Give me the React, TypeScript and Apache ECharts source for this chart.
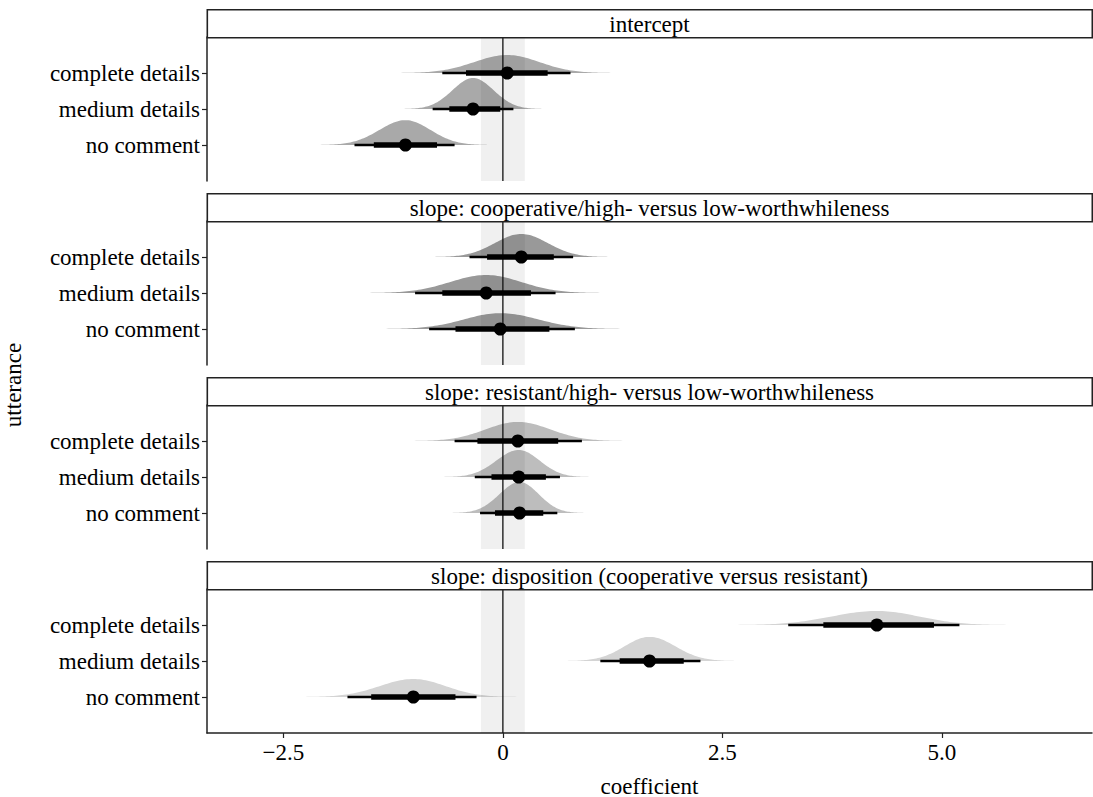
import React, { useEffect, useRef } from 'react';
import * as echarts from 'echarts';

// ---------- data ----------
const panelTitles = [
  'intercept',
  'slope: cooperative/high- versus low-worthwhileness',
  'slope: resistant/high- versus low-worthwhileness',
  'slope: disposition (cooperative versus resistant)',
];
// bottom to top on the y axis
const utterances = ['no comment', 'medium details', 'complete details'];

// per panel, in the order of `utterances`
const medians = [
  [-1.11, -0.34, 0.05],
  [-0.03, -0.19, 0.21],
  [0.19, 0.18, 0.17],
  [-1.02, 1.67, 4.26],
];
const lower66 = [
  [-1.47, -0.61, -0.42],
  [-0.54, -0.69, -0.18],
  [-0.09, -0.13, -0.29],
  [-1.5, 1.33, 3.65],
];
const upper66 = [
  [-0.75, -0.03, 0.51],
  [0.53, 0.32, 0.58],
  [0.46, 0.49, 0.63],
  [-0.54, 2.06, 4.91],
];
const lower95 = [
  [-1.69, -0.8, -0.69],
  [-0.84, -1.0, -0.38],
  [-0.26, -0.32, -0.55],
  [-1.77, 1.11, 3.25],
];
const upper95 = [
  [-0.55, 0.12, 0.77],
  [0.82, 0.6, 0.8],
  [0.62, 0.65, 0.9],
  [-0.3, 2.25, 5.2],
];
// peak height of each density, in category-spacing units
const peakHeights = [
  [0.69, 0.86, 0.5],
  [0.44, 0.5, 0.64],
  [0.86, 0.75, 0.53],
  [0.5, 0.67, 0.39],
];
const fillColors = ['#a9a9a9', '#999999', '#bdbdbd', '#d4d4d4'];
const xTicks = [-2.5, 0, 2.5, 5.0];
const xTickLabels = ['\u22122.5', '0', '2.5', '5.0'];
const ropeLow = -0.25;
const ropeHigh = 0.25;
const xMin = -3.37;
const xMax = 6.71;

// ---------- layout ----------
const LEFT = 207;
const RIGHT_EDGE = 1092;
const PANEL_TOP0 = 37;
const PANEL_STEP = 184;
const PANEL_H = 144;
const STRIP_H = 28;
const FONT = "'Liberation Serif', 'DejaVu Serif', serif";
const FS = 23;

const yCats = ['_lo', ...utterances, '_hi'];

export default function App() {
  const ref = useRef<HTMLDivElement>(null);

  useEffect(() => {
    if (!ref.current) return;
    const chart = echarts.init(ref.current, null, { renderer: 'svg' });

    const grids: any[] = [];
    const xAxes: any[] = [];
    const yAxes: any[] = [];
    const series: any[] = [];
    const graphics: any[] = [];

    panelTitles.forEach((title, p) => {
      const top = PANEL_TOP0 + PANEL_STEP * p;
      const isLast = p === panelTitles.length - 1;
      grids.push({ left: LEFT, top, width: RIGHT_EDGE - LEFT, height: PANEL_H, containLabel: false });
      xAxes.push({
        type: 'value',
        gridIndex: p,
        min: xMin,
        max: xMax,
        show: true,
        splitLine: { show: false },
        axisLine: { show: isLast, onZero: false, lineStyle: { color: '#222', width: 1.5 } },
        axisTick: {
          show: isLast,
          customValues: xTicks,
          length: 5,
          lineStyle: { color: '#222', width: 1.2 },
        },
        axisLabel: {
          show: isLast,
          customValues: xTicks,
          formatter: (v: number) => {
            const i = xTicks.findIndex((t) => Math.abs(t - v) < 1e-6);
            return i >= 0 ? xTickLabels[i] : '';
          },
          fontFamily: FONT,
          fontSize: FS,
          color: '#000',
          margin: 8,
        },
      });
      yAxes.push({
        type: 'category',
        gridIndex: p,
        position: 'left',
        data: yCats,
        boundaryGap: false,
        axisLine: { show: true, onZero: false, lineStyle: { color: '#222', width: 1.5 } },
        axisTick: {
          show: true,
          length: 5,
          interval: (idx: number) => idx >= 1 && idx <= utterances.length,
          lineStyle: { color: '#222', width: 1.2 },
        },
        axisLabel: {
          interval: (idx: number) => idx >= 1 && idx <= utterances.length,
          formatter: (v: string) => (v.startsWith('_') ? '' : v),
          fontFamily: FONT,
          fontSize: FS,
          color: '#000',
          margin: 7,
        },
        splitLine: { show: false },
      });

      const data = utterances.map((_, k) => [
        medians[p][k],
        k + 1,
        lower66[p][k],
        upper66[p][k],
        lower95[p][k],
        upper95[p][k],
        peakHeights[p][k],
      ]);

      const color = fillColors[p];
      // densities
      series.push({
        type: 'custom',
        xAxisIndex: p,
        yAxisIndex: p,
        z: 2,
        clip: true,
        silent: true,
        data,
        renderItem: (params: any, api: any) => {
          const med = api.value(0);
          const yi = api.value(1);
          const lo = api.value(4);
          const hi = api.value(5);
          const peak = api.value(6);
          const sdL = (med - lo) / 1.96;
          const sdR = (hi - med) / 1.96;
          const base = api.coord([med, yi]);
          const unit = Math.abs(api.coord([med, 1])[1] - api.coord([med, 2])[1]);
          const N = 70;
          const span = 4.5;
          const pts: number[][] = [];
          const px = (x: number) => api.coord([Math.max(xMin, Math.min(xMax, x)), yi])[0];
          pts.push([px(med - span * sdL), base[1]]);
          for (let i = 0; i <= N; i++) {
            const x = med - span * sdL + (span * sdL * i) / N;
            const z = (x - med) / sdL;
            pts.push([px(x), base[1] - peak * unit * Math.exp(-0.5 * z * z)]);
          }
          for (let i = 1; i <= N; i++) {
            const x = med + (span * sdR * i) / N;
            const z = (x - med) / sdR;
            pts.push([px(x), base[1] - peak * unit * Math.exp(-0.5 * z * z)]);
          }
          pts.push([px(med + span * sdR), base[1]]);
          return { type: 'polygon', shape: { points: pts }, style: { fill: color } };
        },
      });
      // rope band + zero line
      series.push({
        type: 'custom',
        xAxisIndex: p,
        yAxisIndex: p,
        z: 3,
        silent: true,
        data: [[0, 1]],
        renderItem: (params: any, api: any) => {
          const cs = params.coordSys;
          const x0 = api.coord([ropeLow, 1])[0];
          const x1 = api.coord([ropeHigh, 1])[0];
          const xz = api.coord([0, 1])[0];
          return {
            type: 'group',
            children: [
              {
                type: 'rect',
                shape: { x: x0, y: cs.y, width: x1 - x0, height: cs.height },
                style: { fill: 'rgba(0,0,0,0.06)' },
              },
              {
                type: 'line',
                shape: { x1: xz, y1: cs.y, x2: xz, y2: cs.y + cs.height },
                style: { stroke: '#111', lineWidth: 1.3 },
              },
            ],
          };
        },
      });
      // intervals + points
      series.push({
        type: 'custom',
        xAxisIndex: p,
        yAxisIndex: p,
        z: 4,
        silent: true,
        data,
        renderItem: (params: any, api: any) => {
          const yi = api.value(1);
          const c = (x: number) => api.coord([x, yi]);
          const m = c(api.value(0));
          const l66 = c(api.value(2));
          const h66 = c(api.value(3));
          const l95 = c(api.value(4));
          const h95 = c(api.value(5));
          return {
            type: 'group',
            children: [
              {
                type: 'line',
                shape: { x1: l95[0], y1: m[1], x2: h95[0], y2: m[1] },
                style: { stroke: '#000', lineWidth: 2.5 },
              },
              {
                type: 'line',
                shape: { x1: l66[0], y1: m[1], x2: h66[0], y2: m[1] },
                style: { stroke: '#000', lineWidth: 5.5 },
              },
              {
                type: 'circle',
                shape: { cx: m[0], cy: m[1], r: 6.5 },
                style: { fill: '#000' },
              },
            ],
          };
        },
      });

      // facet strip
      const stripTop = top - STRIP_H;
      graphics.push({
        type: 'rect',
        left: LEFT - 0.5,
        top: stripTop,
        shape: { x: 0, y: 0, width: RIGHT_EDGE - LEFT, height: STRIP_H },
        style: { fill: '#fff', stroke: '#222', lineWidth: 1.6 },
        z: 10,
      });
      graphics.push({
        type: 'text',
        x: (LEFT + RIGHT_EDGE) / 2,
        y: stripTop + STRIP_H / 2 + 1,
        style: {
          text: title,
          fontFamily: FONT,
          fontSize: FS,
          fill: '#000',
          align: 'center',
          verticalAlign: 'middle',
        },
        z: 11,
      });
    });

    graphics.push({
      type: 'text',
      x: (LEFT + RIGHT_EDGE) / 2,
      y: 786,
      style: {
        text: 'coefficient',
        fontFamily: FONT,
        fontSize: FS,
        fill: '#000',
        align: 'center',
        verticalAlign: 'middle',
      },
    });
    graphics.push({
      type: 'text',
      x: 13,
      y: 385,
      rotation: Math.PI / 2,
      style: {
        text: 'utterance',
        fontFamily: FONT,
        fontSize: FS,
        fill: '#000',
        align: 'center',
        verticalAlign: 'middle',
      },
    });

    chart.setOption({
      animation: false,
      backgroundColor: '#fff',
      grid: grids,
      xAxis: xAxes,
      yAxis: yAxes,
      series,
      graphic: { elements: graphics },
    });

    return () => chart.dispose();
  }, []);

  return (
    <div
      ref={ref}
      style={{ position: 'absolute', left: 0, top: 0, width: 1093, height: 797 }}
    />
  );
}
